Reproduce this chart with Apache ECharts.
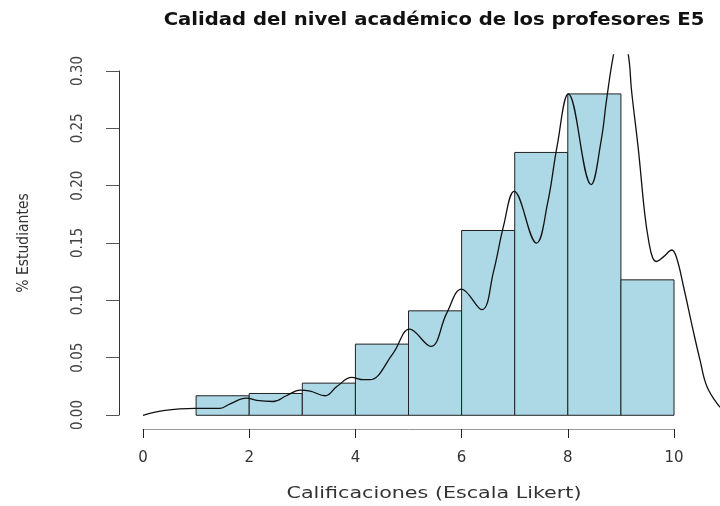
<!DOCTYPE html>
<html>
<head>
<meta charset="utf-8">
<script src="https://cdn.jsdelivr.net/npm/echarts@6/dist/echarts.min.js"></script>
<style>
  html, body { margin: 0; padding: 0; background: #fff; }
  #chart { width: 720px; height: 506px; }
</style>
</head>
<body>
<div id="chart"></div>
<script>
// histograma (breaks 1:10) y densidad
const binEdges = [1, 2, 3, 4, 5, 6, 7, 8, 9, 10]
const binProps = [0.017, 0.019, 0.028, 0.062, 0.091, 0.161, 0.229, 0.280, 0.118]

const densX = [0.00, 0.38, 0.98, 1.45, 1.64, 1.95, 2.14, 2.45, 2.70, 2.96, 3.15, 3.43, 3.65, 3.93, 4.15, 4.27,
  4.71, 5.02, 5.42, 5.72, 6.00, 6.38, 6.60, 6.79, 6.99, 7.41, 7.62, 7.80, 8.01, 8.44, 8.63, 8.73, 8.86, 9.00,
  9.14, 9.20, 9.33, 9.45, 9.53, 9.60, 9.67, 9.80, 9.96, 10.05, 10.18, 10.36, 10.49, 10.62, 10.83, 10.95]
const densY = [0.000, 0.004, 0.006, 0.006, 0.010, 0.015, 0.013, 0.012, 0.017, 0.022, 0.021, 0.017, 0.025, 0.033, 0.031, 0.031,
  0.054, 0.075, 0.060, 0.089, 0.110, 0.092, 0.125, 0.165, 0.195, 0.150, 0.185, 0.235, 0.280, 0.201, 0.240, 0.275, 0.314, 0.340,
  0.314, 0.283, 0.231, 0.175, 0.150, 0.137, 0.134, 0.138, 0.144, 0.137, 0.112, 0.074, 0.048, 0.025, 0.009, 0.004]

const xTicks = [0, 2, 4, 6, 8, 10]

const histData = binProps.map((p, i) => [binEdges[i], binEdges[i + 1], p])
const densData = densX.map((x, i) => [x, densY[i]])

const condensed = "'DejaVu Sans Condensed', 'Liberation Sans Narrow', sans-serif"

const chart = echarts.init(document.getElementById('chart'))
chart.setOption({
  animation: false,
  graphic: [
    {
      type: 'text', x: 434, y: 20, scaleX: 1.09,
      style: {
        text: 'Calidad del nivel académico de los profesores E5',
        textAlign: 'center', textVerticalAlign: 'middle',
        font: 'bold 18px "DejaVu Sans"', fill: '#111'
      }
    },
    {
      type: 'text', x: 434, y: 494, scaleX: 1.29,
      style: {
        text: 'Calificaciones (Escala Likert)',
        textAlign: 'center', textVerticalAlign: 'middle',
        font: '16px "DejaVu Sans"', fill: '#333'
      }
    }
  ],
  grid: [
    // region de datos (usr de R), ejes ocultos
    { left: 119, right: 0, top: 55, bottom: 77 },
    // ejes visibles
    { left: 143, right: 46, top: 71, bottom: 91 }
  ],
  xAxis: [
    { gridIndex: 0, type: 'value', min: -0.452, max: 10.866, show: false },
    {
      gridIndex: 1, type: 'value', min: 0, max: 10, interval: 2, offset: 14,
      axisLine: { show: true, onZero: false, lineStyle: { color: '#9a9a9a', width: 1 } },
      axisTick: { show: true, length: 9, lineStyle: { color: '#222' } },
      splitLine: { show: false },
      axisLabel: { margin: 22, fontFamily: 'DejaVu Sans', fontSize: 15, color: '#333', customValues: xTicks }
    }
  ],
  yAxis: [
    { gridIndex: 0, type: 'value', min: -0.01195, max: 0.3139, show: false },
    {
      gridIndex: 1, type: 'value', min: 0, max: 0.3, interval: 0.05, offset: 24,
      name: '% Estudiantes',
      nameLocation: 'middle',
      nameRotate: 90,
      nameGap: 87,
      nameTextStyle: { fontFamily: condensed, fontSize: 15.5, color: '#333' },
      axisLine: { show: true, onZero: false, lineStyle: { color: '#333', width: 1 } },
      axisTick: { show: true, length: 13, lineStyle: { color: '#555' } },
      splitLine: { show: false },
      axisLabel: {
        rotate: 90, margin: 33, fontFamily: condensed, fontSize: 15, color: '#444',
        formatter: v => v.toFixed(2)
      }
    }
  ],
  series: [
    {
      type: 'custom',
      xAxisIndex: 0,
      yAxisIndex: 0,
      data: histData,
      renderItem: (params, api) => {
        const p0 = api.coord([api.value(0), api.value(2)])
        const p1 = api.coord([api.value(1), 0])
        return {
          type: 'rect',
          shape: { x: p0[0], y: p0[1], width: p1[0] - p0[0], height: p1[1] - p0[1] },
          style: { fill: '#add8e6', stroke: '#222', lineWidth: 1 }
        }
      },
      z: 2
    },
    {
      type: 'line',
      xAxisIndex: 0,
      yAxisIndex: 0,
      data: densData,
      smooth: 0.4,
      showSymbol: false,
      symbol: 'none',
      lineStyle: { color: '#111', width: 1.3 },
      z: 3
    }
  ]
})
</script>
</body>
</html>
